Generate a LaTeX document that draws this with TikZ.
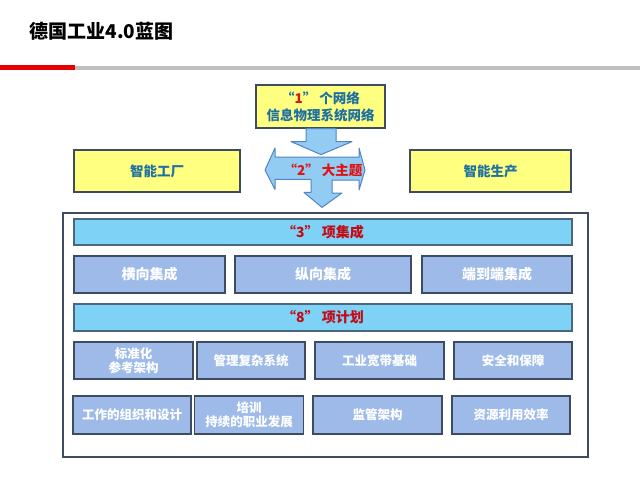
\documentclass[tikz,border=0pt]{standalone}
\usepackage{fontspec}
\usepackage{tikz}
\usetikzlibrary{calc}
\setmainfont{Noto Sans CJK SC}
\definecolor{jaune}{RGB}{255,255,128}
\definecolor{bordure}{RGB}{62,76,98}
\definecolor{texte}{RGB}{30,112,162}
\definecolor{rouge}{RGB}{222,20,20}
\definecolor{rougefonce}{RGB}{196,10,20}
\definecolor{bleuclair}{RGB}{126,210,246}
\definecolor{lavande}{RGB}{157,186,232}
\definecolor{fleche}{RGB}{146,204,242}
\definecolor{flechebord}{RGB}{82,132,196}
\definecolor{gris}{RGB}{190,190,190}

\begin{document}
\begin{tikzpicture}[x=1pt, y=-1pt,
    boitejaune/.style={draw=bordure, line width=1.2pt, fill=jaune, text=texte, align=center,
        inner sep=0pt, font=\bfseries\fontsize{13.5}{17}\selectfont},
    barre/.style={draw=bordure!80!bleuclair, line width=1.1pt, fill=bleuclair, text=rougefonce,
        inner sep=0pt, minimum width=498, font=\bfseries\fontsize{14}{16}\selectfont},
    case/.style={draw=bordure, line width=1.1pt, fill=lavande, text=white, align=center,
        inner sep=0pt, font=\bfseries\fontsize{12.5}{14}\selectfont},
    grande/.style={case, minimum height=37, font=\bfseries\fontsize{14}{16}\selectfont},
    bloc/.style={draw=flechebord, line width=1pt, fill=fleche, line join=round}]
    \useasboundingbox (0,0) rectangle (640,480);
    \fill[white] (0,0) rectangle (640,480);

    % Titre
    \node[anchor=west, font=\bfseries\fontsize{19}{22}\selectfont] (titre) at (26,31) {德国工业4.0蓝图};
    \fill[gris] (75,65.5) rectangle (640,69.5);
    \fill[red!90!black] (0,65) rectangle (75,70);

    % Les boites jaunes
    \node[boitejaune, minimum width=129, minimum height=43] (reseau) at (320.5,106.5)
        {“\textcolor{rouge}{1}” 个网络\\信息物理系统网络};
    \node[boitejaune, minimum width=166, minimum height=42] (usine) at (157,171) {智能工厂};
    \node[boitejaune, minimum width=161, minimum height=42] (production) at (490.5,171) {智能生产};

    % Le cadre
    \node[draw=bordure, line width=1.2pt, minimum width=525, minimum height=244] (cadre) at (325.5,335) {};

    % Fleche en T
    \coordinate (carrefour) at (321,169);
    \filldraw[bloc] ($(carrefour)+(-56,1)$) -- ++(10,-22) -- ++(0,9) -- ++(84,0) -- ++(0,-9)
        -- ($(carrefour)+(44,1)$) -- ++(-6,20) -- ++(0,-10) -- ++(-27,0) -- ++(0,13) -- ++(10,0)
        -- ($(cadre.north)+(-3.5,-5)$) -- ++(-18,-15) -- ++(7,0) -- ++(0,-13) -- ++(-36,0) -- ++(0,10) -- cycle;
    % Fleche du haut
    \filldraw[bloc] ($(reseau.south)+(-14.5,0)$) -- ++(30,0) -- ++(0,13) -- ++(16,0)
        -- ++(-31,13) -- ++(-30,-13) -- ++(15,0) -- cycle;
    \node[text=rouge, font=\bfseries\fontsize{13.5}{16}\selectfont] (theme) at (323,170) {“2” 大主题};

    % "3" projets
    \node[barre, minimum height=26] (integration) at (323,232) {“3” 项集成};
    \node[grande, minimum width=151] (horizontal) at (149.5,274.5) {横向集成};
    \node[grande, minimum width=176] (vertical) at (323,274.5) {纵向集成};
    \node[grande, minimum width=150] (bout) at (497,274.5) {端到端集成};

    % "8" plans
    \node[barre, minimum height=27] (plan) at (323,317.5) {“8” 项计划};
    \node[case, minimum width=119, minimum height=37] (norme) at (133.5,360.5) {标准化\\参考架构};
    \node[case, minimum width=108, minimum height=37] (gestion) at (251,360.5) {管理复杂系统};
    \node[case, minimum width=129, minimum height=37] (haut) at (379.5,360.5) {工业宽带基础};
    \node[case, minimum width=118, minimum height=37] (securite) at (513,360.5) {安全和保障};
    \node[case, minimum width=118, minimum height=38] (travail) at (132,415) {工作的组织和设计};
    \node[case, minimum width=109, minimum height=38] (formation) at (249,415) {培训\\持续的职业发展};
    \node[case, minimum width=129, minimum height=38] (cadrereg) at (377.5,415) {监管架构};
    \node[case, minimum width=118, minimum height=38] (ressource) at (511,415) {资源利用效率};
\end{tikzpicture}
\end{document}
